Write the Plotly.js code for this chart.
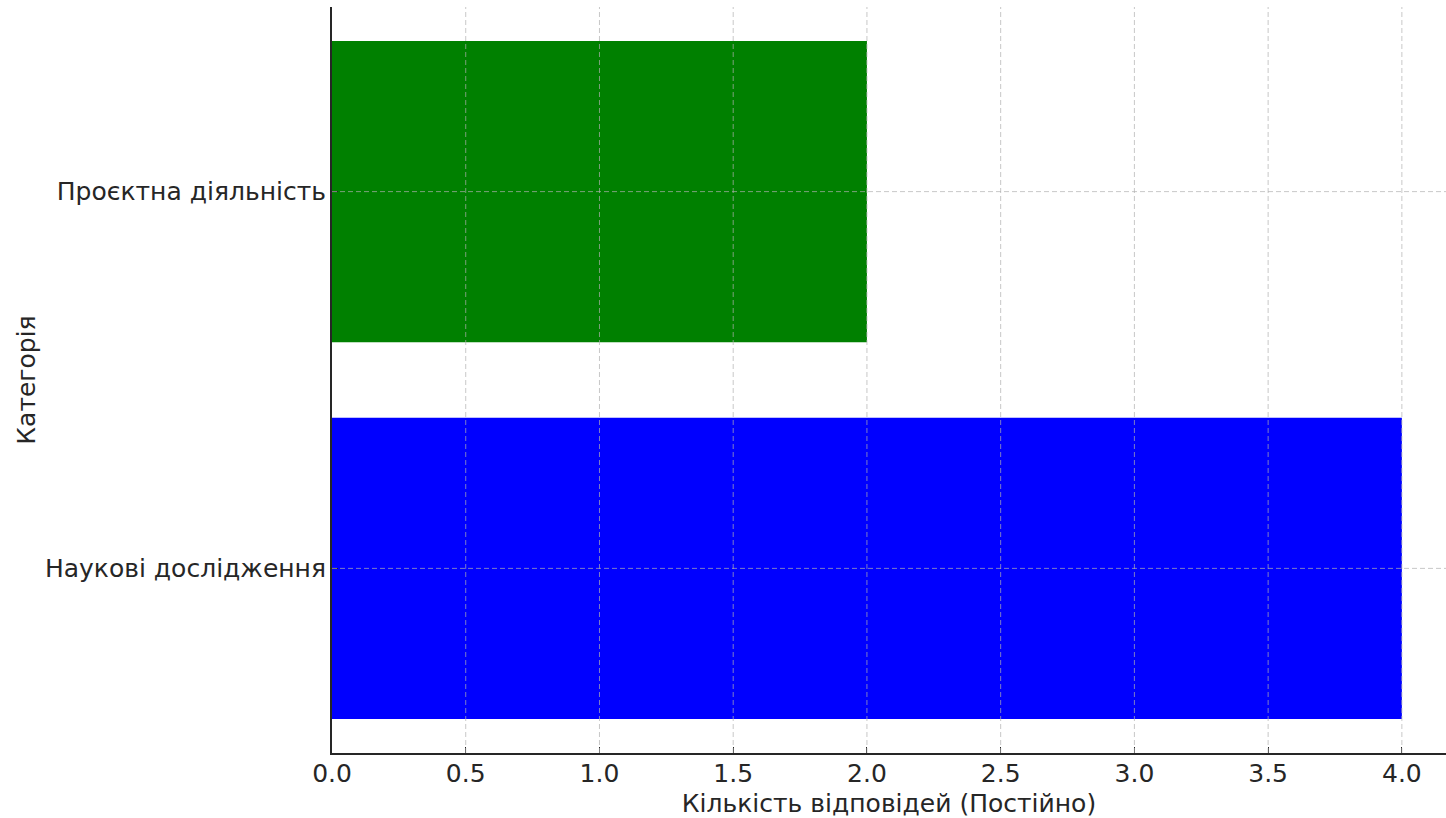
<!DOCTYPE html>
<html>
<head>
<meta charset="utf-8">
<script src="https://cdn.plot.ly/plotly-3.0.1.min.js"></script>
<style>html,body{margin:0;padding:0;background:#fff;}#chart{width:1446px;height:818px;}</style>
</head>
<body>
<div id="chart"></div>
<script>
const categories = ['Наукові дослідження', 'Проєктна діяльність'];
const values = [4, 2];
const barColors = ['blue', 'green'];
const xTickVals = [0, 0.5, 1, 1.5, 2, 2.5, 3, 3.5, 4];
const xTickText = ['0.0', '0.5', '1.0', '1.5', '2.0', '2.5', '3.0', '3.5', '4.0'];

const font = {family: 'DejaVu Sans', size: 25, color: '#262626'};
const gridLine = {color: 'rgba(176,176,176,0.7)', width: 1, dash: '5px,3px'};

// grid drawn above the bars, as in the reference
const shapes = [];
xTickVals.forEach(v => {
  if (v === 0) return;
  shapes.push({type: 'line', layer: 'above', xref: 'x', yref: 'paper', x0: v, x1: v, y0: 0, y1: 1, line: gridLine});
});
categories.forEach(c => {
  shapes.push({type: 'line', layer: 'above', xref: 'paper', yref: 'y', x0: 0, x1: 1, y0: c, y1: c, line: gridLine});
});

Plotly.newPlot('chart', [{
  type: 'bar',
  orientation: 'h',
  y: categories,
  x: values,
  marker: {color: barColors, line: {width: 0}},
  hoverinfo: 'x+y'
}], {
  width: 1446, height: 818,
  margin: {l: 332, r: 0, t: 7, b: 65, pad: 0},
  paper_bgcolor: '#fff', plot_bgcolor: '#fff',
  font: font,
  bargap: 0.2,
  showlegend: false,
  shapes: shapes,
  xaxis: {
    range: [0, 4.165],
    tickvals: xTickVals, ticktext: xTickText,
    ticks: 'inside', ticklen: 6, tickwidth: 1.3, tickcolor: '#262626',
    ticklabelstandoff: -3,
    showline: true, linecolor: '#262626', linewidth: 2,
    showgrid: false,
    zeroline: false,
    layer: 'above traces',
    tickfont: font,
    title: {text: 'Кількість відповідей (Постійно)', font: font, standoff: 10}
  },
  yaxis: {
    type: 'category',
    range: [-0.49, 1.49],
    ticks: 'inside', ticklen: 6, tickwidth: 1.3, tickcolor: '#262626',
    ticklabelstandoff: -1,
    showline: true, linecolor: '#262626', linewidth: 2,
    showgrid: false,
    zeroline: false,
    layer: 'above traces',
    tickfont: font,
    title: {text: 'Категорія', font: font, standoff: 2}
  }
}, {displayModeBar: false});
</script>
</body>
</html>
